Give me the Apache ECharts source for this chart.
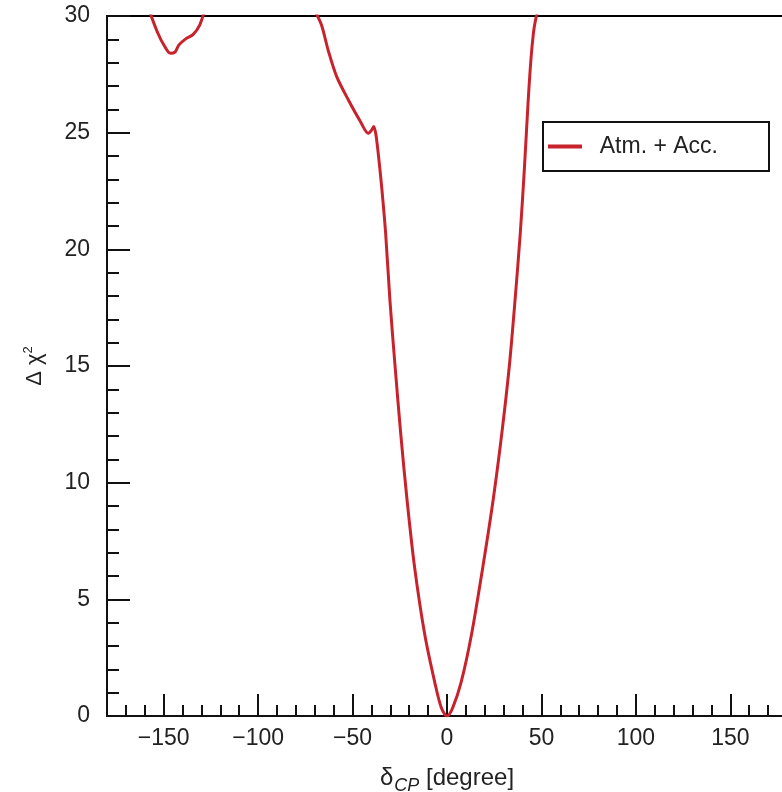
<!DOCTYPE html>
<html>
<head>
<meta charset="utf-8">
<script src="https://cdn.jsdelivr.net/npm/echarts@6/dist/echarts.min.js"></script>
<style>
html,body{margin:0;padding:0;background:#fff;}
#chart{width:782px;height:792px;}
</style>
</head>
<body>
<div id="chart"></div>
<script>
// ---- data ----
const seriesName = 'Atm. + Acc.';
// left dip near -145 degrees (curve leaves the frame at 30 on both sides)
const dipX = [-157.5, -153, -149.5, -146.5, -144, -142, -138, -134.5, -131, -128.5];
const dipY = [30.2, 29.25, 28.7, 28.4, 28.45, 28.75, 29.04, 29.2, 29.6, 30.2];
// main valley around 0 degrees
const mainX = [-69.8, -66.4, -62.8, -58.4, -52.2, -46, -41.6, -40, -38.8, -37.6, -36, -34.5, -32.5, -30.2, -27.5, -24.5, -21.2, -17.2, -11.8, -6.5, -3, 0,
               3, 7.5, 13, 19, 24.5, 29, 33, 36, 38.8, 41, 43, 44.5, 45.8, 46.8, 48];
const mainY = [30.2, 29.6, 28.5, 27.4, 26.4, 25.5, 24.97, 25.1, 25.26, 24.9, 23.8, 22.6, 20.7, 17.8, 15.0, 12.1, 9.3, 6.4, 3.5, 1.45, 0.35, 0,
               0.35, 1.45, 3.5, 6.4, 9.3, 12.1, 15.0, 17.8, 20.7, 23.5, 26.4, 28.2, 29.3, 29.8, 30.2];
const xMajorTicks = [-150, -100, -50, 0, 50, 100, 150];
const xRange = [-180, 180];
const yRange = [0, 30];

// ---- build ----
const lineData = [];
dipX.forEach((x, i) => lineData.push([x, dipY[i]]));
lineData.push('-');
mainX.forEach((x, i) => lineData.push([x, mainY[i]]));

const red = '#c8232c';
const txt = '#222';
const font = 'Liberation Sans, Arial, Helvetica, sans-serif';

const chart = echarts.init(document.getElementById('chart'), null, {renderer: 'canvas'});
chart.setOption({
  animation: false,
  backgroundColor: '#fff',
  grid: {left: 107, top: 16, width: 680, height: 700, outerBoundsMode: 'none', containLabel: false,
         show: true, borderColor: '#000', borderWidth: 2, backgroundColor: 'transparent'},
  legend: {
    left: 543, top: 122,
    padding: [13, 51, 13, 5],
    borderColor: '#111', borderWidth: 2,
    itemWidth: 34, itemHeight: 4,
    data: [{name: seriesName, icon: 'rect'}],
    formatter: n => '  ' + n,
    textStyle: {fontSize: 23, color: txt, fontFamily: font}
  },
  xAxis: [{
    type: 'value', min: xRange[0], max: xRange[1], interval: 10, position: 'bottom',
    splitLine: {show: false},
    axisLine: {onZero: false, lineStyle: {color: '#111', width: 2}},
    axisTick: {inside: true, length: 11, lineStyle: {color: '#111', width: 2}},
    axisLabel: {
      margin: 11, fontSize: 23, color: txt, fontFamily: font,
      formatter: v => (xMajorTicks.indexOf(v) >= 0 ? String(v).replace('-', '\u2212') : '')
    },
    name: '{d|δ}{sub|CP}{d| [degree]}', nameLocation: 'middle', nameGap: 45,
    nameTextStyle: {
      color: txt, fontFamily: font,
      rich: {
        d: {fontSize: 24, color: txt, fontFamily: font},
        sub: {fontSize: 18, fontStyle: 'italic', color: txt, fontFamily: font, padding: [16, 0, 0, 1]}
      }
    }
  }, {
    type: 'value', min: xRange[0], max: xRange[1], position: 'bottom',
    splitLine: {show: false},
    axisLine: {show: false, onZero: false},
    axisTick: {inside: true, length: 22, customValues: xMajorTicks, lineStyle: {color: '#111', width: 2}},
    axisLabel: {show: false}
  }],
  yAxis: {
    type: 'value', min: yRange[0], max: yRange[1], interval: 5,
    splitLine: {show: false},
    axisLine: {onZero: false, lineStyle: {color: '#111', width: 2}},
    axisTick: {inside: true, length: 23, lineStyle: {color: '#111', width: 2}},
    minorTick: {show: true, splitNumber: 5, length: 12, lineStyle: {color: '#111', width: 2}},
    axisLabel: {margin: 17, fontSize: 23, color: txt, fontFamily: font},
    name: '{d|Δ χ}{sup|2}', nameLocation: 'middle', nameGap: 60, nameRotate: 90,
    nameTextStyle: {
      color: txt, fontFamily: font,
      rich: {
        d: {fontSize: 22, color: txt, fontFamily: font},
        sup: {fontSize: 13, color: txt, fontFamily: font, padding: [0, 0, 12, 0]}
      }
    }
  },
  series: [{
    name: seriesName, type: 'line', xAxisIndex: 0, yAxisIndex: 0,
    data: lineData, showSymbol: false, symbol: 'none', smooth: 0.3,
    connectNulls: false, clip: true,
    lineStyle: {color: red, width: 3}, itemStyle: {color: red}
  }]
});
</script>
</body>
</html>
